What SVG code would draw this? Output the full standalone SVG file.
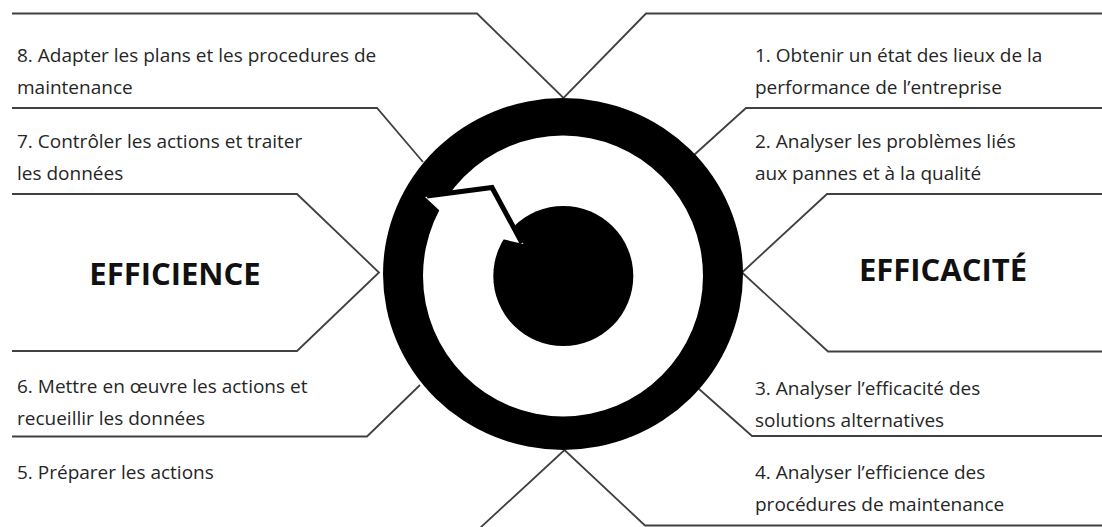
<svg xmlns="http://www.w3.org/2000/svg" width="1102" height="527" viewBox="0 0 1102 527">
<style>
.ln{fill:none;stroke:#404040;stroke-width:1.8;stroke-linejoin:miter}
.t{font-family:"Open Sans","Liberation Sans",sans-serif;font-size:19px;fill:#262626}
.b{font-family:"Open Sans","Liberation Sans",sans-serif;font-size:31px;font-weight:bold;fill:#111}
</style>
<rect width="1102" height="527" fill="#fff"/>
<g id="connectors">
<polyline class="ln" points="12,13.5 477,13.5 563.5,98 646,13.5 1102,13.5"/>
<polyline class="ln" points="12,108 377,108 423,162"/>
<polyline class="ln" points="1102,108 746,108 694,155"/>
<polyline class="ln" points="12,194 297,194 379,272.5 297,351 12,351"/>
<polyline class="ln" points="1102,194 827,194 742,272.5 828,351.5 1102,351.5"/>
<polyline class="ln" points="12,436.5 367,436.5 420,385"/>
<polyline class="ln" points="1102,436 752,436 699,389"/>
<polyline class="ln" points="480,528 564.5,450 645,525.5 1102,525.5"/>
</g>
<g id="cycle-icon">
<ellipse cx="563" cy="274" rx="180" ry="176" fill="#000"/>
<ellipse cx="563" cy="276" rx="140" ry="140.5" fill="#fff"/>
<circle cx="563.3" cy="276" r="70" fill="#000"/>
<polygon points="425,197 440,211 447,201 455,193.5 440,195" fill="#fff"/>
<polygon points="502,239 523.5,244 513,226" fill="#fff"/>
<polyline points="427,196 492,187.5 522,243" fill="none" stroke="#000" stroke-width="5" stroke-linejoin="miter"/>
</g>
<g id="step8"><text class="t" x="17" y="62">8. Adapter les plans et les procedures de</text><text class="t" x="17" y="94">maintenance</text></g>
<g id="step7"><text class="t" x="17" y="148">7. Contrôler les actions et traiter</text><text class="t" x="17" y="180">les données</text></g>
<g id="efficience"><text class="b" x="175" y="285" text-anchor="middle">EFFICIENCE</text></g>
<g id="step6"><text class="t" x="17" y="393">6. Mettre en œuvre les actions et</text><text class="t" x="17" y="425">recueillir les données</text></g>
<g id="step5"><text class="t" x="17" y="479">5. Préparer les actions</text></g>
<g id="step1"><text class="t" x="755" y="62">1. Obtenir un état des lieux de la</text><text class="t" x="755" y="94">performance de l’entreprise</text></g>
<g id="step2"><text class="t" x="755" y="148">2. Analyser les problèmes liés</text><text class="t" x="755" y="180">aux pannes et à la qualité</text></g>
<g id="efficacite"><text class="b" x="943" y="281" text-anchor="middle">EFFICACITÉ</text></g>
<g id="step3"><text class="t" x="755" y="395">3. Analyser l’efficacité des</text><text class="t" x="755" y="427">solutions alternatives</text></g>
<g id="step4"><text class="t" x="755" y="479">4. Analyser l’efficience des</text><text class="t" x="755" y="511">procédures de maintenance</text></g>
</svg>
